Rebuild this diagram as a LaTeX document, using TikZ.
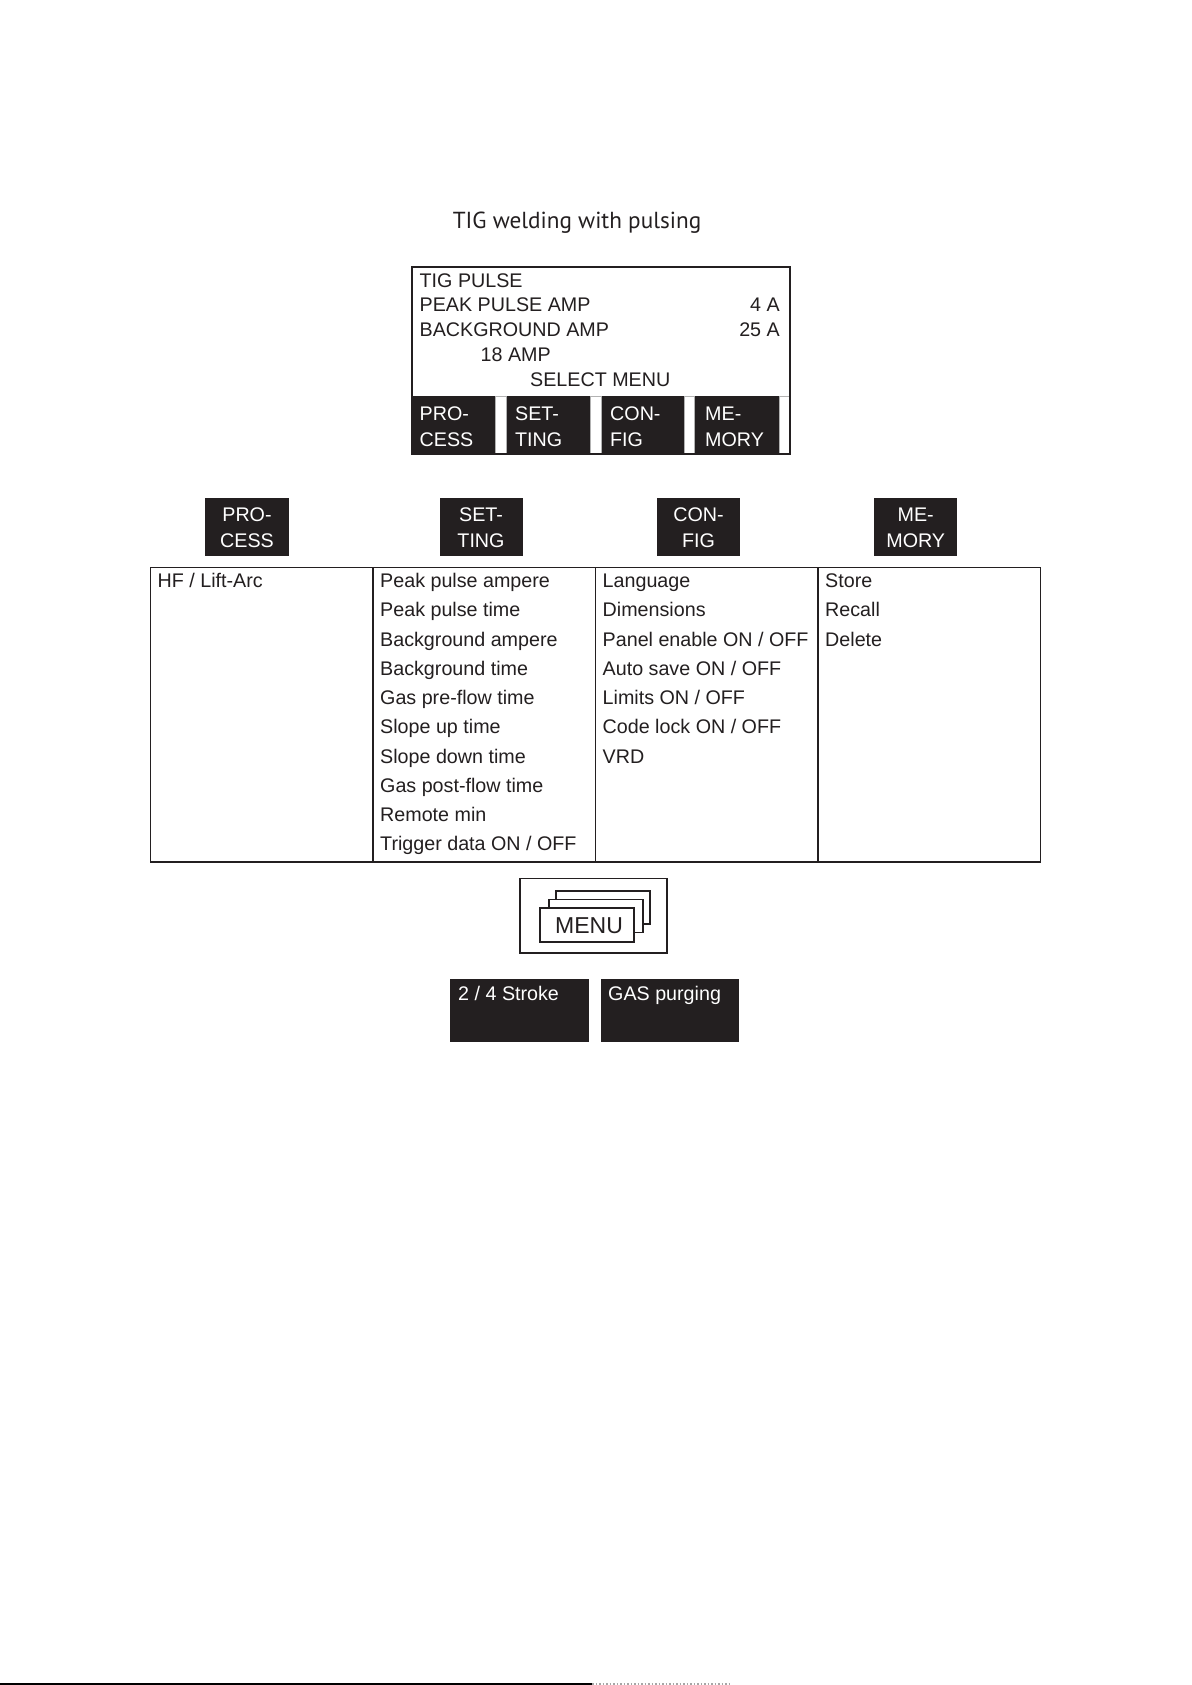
\documentclass[tikz,border=0pt]{standalone}
\usepackage{fontspec}
\setmainfont{Liberation Sans}
\newfontfamily\titlefont{PT Sans}
\definecolor{ink}{HTML}{231F20}
\begin{document}
\begin{tikzpicture}[x=1pt,y=-1pt,
  txt/.style={inner sep=0pt,anchor=base west,text=ink,font=\fontsize{19.7}{23}\selectfont},
  wtxt/.style={inner sep=0pt,anchor=base west,text=white,font=\fontsize{19.7}{23}\selectfont},
  wctxt/.style={inner sep=0pt,anchor=base,text=white,font=\fontsize{19.7}{23}\selectfont},
  keybox/.style={draw=none,fill=ink},
  strip/.style={draw=gray!60,line width=0.8pt,fill=white},
  frame/.style={draw=ink,line width=1.4pt},
  card/.style={draw=ink,line width=1.2pt,fill=white}]
\useasboundingbox (0,0) rectangle (1191,1685);
\fill[white] (0,0) rectangle (1191,1685);

% title
\node[inner sep=0pt,anchor=base,text=ink,font=\titlefont\fontsize{23.2}{26}\selectfont] (title) at (577,228.3) {TIG welding with pulsing};

% display
\node[frame,minimum width=378pt,minimum height=187pt,inner sep=0pt] (disp) at (601,360.5) {};
\node[txt] (l1) at (419.5,287.3) {TIG PULSE};
\node[txt] (l2) at (419.5,312) {PEAK PULSE AMP};
\node[txt] (l3) at (419.5,336.7) {BACKGROUND AMP};
\node[txt] (l4) at (480.5,361.4) {18 AMP};
\node[txt] (l5) at (530,386.1) {SELECT MENU};
\node[txt,anchor=base east] (v1) at (780,312) {4 A};
\node[txt,anchor=base east] (v2) at (780,336.7) {25 A};

% soft keys
\fill[keybox] (412,396) rectangle (495,454);
\fill[keybox] (506,396) rectangle (590,454);
\fill[keybox] (601,396) rectangle (684,454);
\fill[keybox] (694.5,396) rectangle (779,454);
\path[strip] (495,396) rectangle (506,454);
\path[strip] (590,396) rectangle (601,454);
\path[strip] (684,396) rectangle (694.5,454);
\path[strip] (779,396) rectangle (790,454);
\draw[frame] (412,267) rectangle (790,454);
\node[wtxt] (k1a) at (419.5,420) {PRO-};
\node[wtxt] (k1b) at (419.5,446.5) {CESS};
\node[wtxt] (k2a) at (515,420) {SET-};
\node[wtxt] (k2b) at (515,446.5) {TING};
\node[wtxt] (k3a) at (610,420) {CON-};
\node[wtxt] (k3b) at (610,446.5) {FIG};
\node[wtxt] (k4a) at (705,420) {ME-};
\node[wtxt] (k4b) at (705,446.5) {MORY};

% second row buttons
\node[keybox,minimum width=83.5pt,minimum height=58pt,inner sep=0pt] (bp) at (247,526.5) {};
\node[keybox,minimum width=83pt,minimum height=58pt,inner sep=0pt] (bs) at (481,526.5) {};
\node[keybox,minimum width=83pt,minimum height=58pt,inner sep=0pt] (bc) at (698.5,526.5) {};
\node[keybox,minimum width=83.5pt,minimum height=58pt,inner sep=0pt] (bm) at (915.7,526.5) {};
\node[wctxt] (bp1) at (247,521.7) {PRO-};
\node[wctxt] (bp2) at (247,547.3) {CESS};
\node[wctxt] (bs1) at (481,521.7) {SET-};
\node[wctxt] (bs2) at (481,547.3) {TING};
\node[wctxt] (bc1) at (698.5,521.7) {CON-};
\node[wctxt] (bc2) at (698.5,547.3) {FIG};
\node[wctxt] (bm1) at (915.7,521.7) {ME-};
\node[wctxt] (bm2) at (915.7,547.3) {MORY};

% table
\draw[ink,line width=1.5pt] (150.5,567.5) rectangle (1040.5,862);
\draw[ink,line width=1.3pt] (373,567.5) -- (373,862);
\draw[ink,line width=1.3pt] (595.5,567.5) -- (595.5,862);
\draw[ink,line width=1.3pt] (818,567.5) -- (818,862);
\node[txt] (p1) at (157.5,587.5) {HF / Lift-Arc};
\foreach \t [count=\i from 0] in {Peak pulse ampere,Peak pulse time,Background ampere,Background time,Gas pre-flow time,Slope up time,Slope down time,Gas post-flow time,Remote min,Trigger data ON / OFF}
  \node[txt] (s\i) at (380,587.5+29.26*\i) {\t};
\foreach \t [count=\i from 0] in {Language,Dimensions,Panel enable ON / OFF,Auto save ON / OFF,Limits ON / OFF,Code lock ON / OFF,VRD}
  \node[txt] (c\i) at (602.5,587.5+29.26*\i) {\t};
\foreach \t [count=\i from 0] in {Store,Recall,Delete}
  \node[txt] (m\i) at (825,587.5+29.26*\i) {\t};

% menu icon
\draw[frame,line width=1.3pt] (520,878.5) rectangle (667,953);
\draw[card] (556,891) rectangle (650,924);
\draw[card] (549,899.5) rectangle (643,932.5);
\draw[card] (540,908) rectangle (634,942);
\node[inner sep=0pt,anchor=base,text=ink,font=\fontsize{23}{26}\selectfont] (menu) at (589,933.3) {MENU};

% bottom buttons
\node[keybox,minimum width=139pt,minimum height=63pt,inner sep=0pt] (b24) at (519.5,1010.5) {};
\node[keybox,minimum width=138pt,minimum height=63pt,inner sep=0pt] (bgas) at (670,1010.5) {};
\node[wtxt] (t24) at (458,1000.7) {2 / 4 Stroke};
\node[wtxt] (tgas) at (608,1000.7) {GAS purging};

% page edge line
\draw[black,line width=1.5pt] (0,1684.2) -- (592,1684.2);
\draw[gray!70,line width=1.5pt,dotted] (592,1684.2) -- (732,1684.2);
\end{tikzpicture}
\end{document}
